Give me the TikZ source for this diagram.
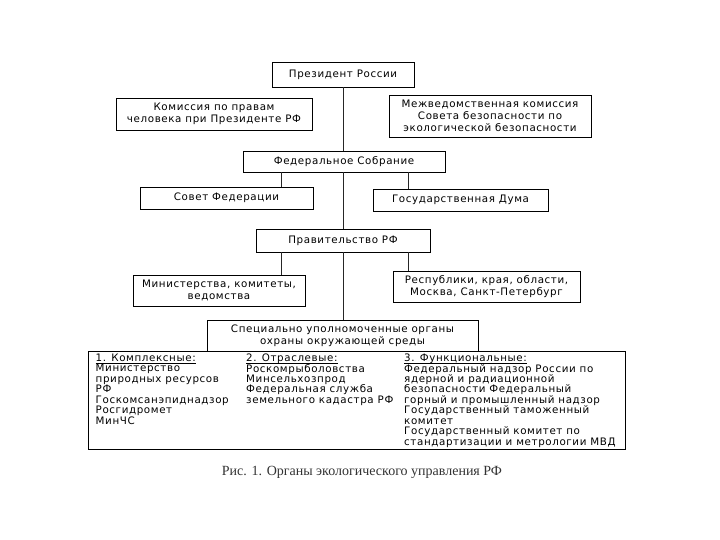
\documentclass[tikz,border=0pt]{standalone}
\usepackage{fontspec}
\newfontfamily\diag[LetterSpace=6]{DejaVu Sans}
\newfontfamily\capfont{Liberation Serif}
\newcommand\ulhead[1]{\setbox0\hbox{#1}\rlap{\rule[-1.8pt]{\wd0}{0.5pt}}\box0}
\usetikzlibrary{shadows}
\begin{document}
\begin{tikzpicture}[x=1pt,y=-1pt,
  box/.style={draw=black, line width=0.8pt, fill=white, inner sep=0pt, align=center,
    font=\diag\fontsize{10.3}{12}\selectfont,
    drop shadow={shadow xshift=0.9pt, shadow yshift=-0.9pt, fill=black!35, opacity=1}},
  coltext/.style={inner sep=0pt, align=left, anchor=north west,
    font=\diag\fontsize{10.3}{10.45}\selectfont},
  link/.style={draw=black!85, line width=0.9pt}]
\useasboundingbox (0,0) rectangle (720,540);
\fill[white] (0,0) rectangle (720,540);

% branch x positions
\coordinate (bl) at (281,0);
\coordinate (br) at (408,0);

\path
  node[box, minimum width=142pt, minimum height=25pt] (pres) at (343,74.5) {Президент России}
  node[box, minimum width=196pt, minimum height=32pt] (comm) at (214,114) {Комиссия по правам\\человека при Президенте РФ}
  node[box, minimum width=202pt, minimum height=42pt] (mvk) at (490,116) {Межведомственная комиссия\\Совета безопасности по\\экологической безопасности}
  node[box, minimum width=202pt, minimum height=21pt] (fa) at (344,161.5) {Федеральное Собрание}
  node[box, minimum width=173pt, minimum height=22pt] (council) at (226.5,198) {Совет Федерации}
  node[box, minimum width=175pt, minimum height=22pt] (duma) at (460.5,200) {Государственная Дума}
  node[box, minimum width=174pt, minimum height=23pt] (gov) at (343,240.5) {Правительство РФ}
  node[box, minimum width=172pt, minimum height=31pt] (min) at (219,290.5) {Министерства, комитеты,\\ведомства}
  node[box, minimum width=187pt, minimum height=31pt] (rep) at (486.5,286.5) {Республики, края, области,\\Москва, Санкт-Петербург}
  node[box, minimum width=537pt, minimum height=98pt] (big) at (356.5,400) {}
  node[box, minimum width=271pt, minimum height=31pt] (spec) at (342.5,335.5) {Специально уполномоченные органы\\охраны окружающей среды};

\draw[link] (pres.south) -- (pres.south |- fa.north);
\draw[link] (fa.south -| pres.south) -- (pres.south |- gov.north);
\draw[link] (gov.south -| pres.south) -- (pres.south |- spec.north);
\draw[link] (bl |- fa.south) -- (bl |- council.north);
\draw[link] (br |- fa.south) -- (br |- duma.north);
\draw[link] (bl |- gov.south) -- (bl |- min.north);
\draw[link] (br |- gov.south) -- (br |- rep.north);

\node[coltext] (c1) at (95.5,353.8) {\ulhead{1. Комплексные:}\\Министерство\\природных ресурсов\\РФ\\Госкомсанэпиднадзор\\Росгидромет\\МинЧС};
\node[coltext] (c2) at (246,353.8) {\ulhead{2. Отраслевые:}\\Роскомрыболовства\\Минсельхозпрод\\Федеральная служба\\земельного кадастра РФ};
\node[coltext] (c3) at (404,353.8) {\ulhead{3. Функциональные:}\\Федеральный надзор России по\\ядерной и радиационной\\безопасности Федеральный\\горный и промышленный надзор\\Государственный таможенный\\комитет\\Государственный комитет по\\стандартизации и метрологии МВД};

\node[font=\capfont\fontsize{14}{16}\selectfont, text=black!80, inner sep=0pt] (cap) at (362,472) {Рис. 1. Органы экологического управления РФ};
\end{tikzpicture}
\end{document}
